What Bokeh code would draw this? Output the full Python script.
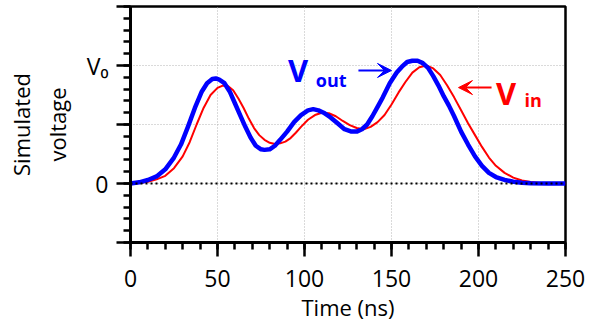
from bokeh.plotting import figure
from bokeh.models import Label, Arrow, VeeHead, SingleIntervalTicker, Range1d, Span
from bokeh.embed import file_html
from bokeh.resources import INLINE

# Data (voltage normalised to V0 = 1)
t_out = [0, 5, 10, 15, 20, 25, 29, 33, 37, 41, 44, 47, 49, 51, 54, 57, 60, 63, 66, 69,
         72, 75, 77, 80, 83, 86, 90, 94, 98, 102, 105, 108, 111, 115, 119, 123, 127,
         130, 133, 136, 139, 142, 145, 149, 153, 156, 159, 162, 165, 168, 171, 174,
         177, 180, 183, 186, 190, 194, 198, 202, 206, 210, 215, 220, 225, 230, 240, 250]
v_out = [0.0, 0.01, 0.03, 0.06, 0.12, 0.22, 0.33, 0.48, 0.64, 0.78, 0.85, 0.885, 0.89,
         0.88, 0.85, 0.78, 0.68, 0.58, 0.48, 0.39, 0.32, 0.29, 0.285, 0.29, 0.32, 0.37,
         0.44, 0.52, 0.58, 0.62, 0.63, 0.62, 0.60, 0.56, 0.51, 0.46, 0.44, 0.44, 0.46,
         0.50, 0.57, 0.65, 0.73, 0.85, 0.94, 0.99, 1.03, 1.04, 1.04, 1.02, 0.98, 0.91,
         0.83, 0.74, 0.66, 0.57, 0.44, 0.33, 0.23, 0.15, 0.09, 0.055, 0.03, 0.015,
         0.007, 0.003, 0.0, 0.0]

t_in = [0, 5, 10, 15, 20, 25, 30, 34, 38, 42, 46, 50, 53, 56, 59, 62, 65, 68, 71, 74,
        77, 80, 83, 86, 89, 92, 95, 98, 102, 106, 110, 114, 118, 122, 126, 130, 134,
        138, 142, 146, 150, 154, 158, 162, 166, 170, 174, 178, 182, 186, 190, 194, 198,
        202, 206, 210, 215, 220, 225, 230, 235, 240, 250]
v_in = [0.0, 0.005, 0.015, 0.035, 0.065, 0.13, 0.23, 0.35, 0.50, 0.64, 0.75, 0.81,
        0.83, 0.825, 0.79, 0.72, 0.64, 0.55, 0.47, 0.41, 0.37, 0.345, 0.335, 0.34,
        0.355, 0.385, 0.43, 0.48, 0.54, 0.58, 0.60, 0.595, 0.57, 0.53, 0.495, 0.47,
        0.46, 0.48, 0.52, 0.58, 0.67, 0.77, 0.86, 0.94, 0.985, 1.0, 0.975, 0.92, 0.83,
        0.73, 0.62, 0.51, 0.41, 0.31, 0.22, 0.15, 0.09, 0.05, 0.025, 0.012, 0.005,
        0.002, 0.0]

y_tick_labels = {-0.5: "", 0: "0", 0.5: "", 1: "V\u2080", 1.5: ""}
zero_level = 0

FONT = "Open Sans"

p = figure(width=606, height=327, output_backend="svg", toolbar_location=None,
           x_range=Range1d(0, 250), y_range=Range1d(-0.5, 1.5),
           min_border_left=130, min_border_right=41, min_border_top=6,
           min_border_bottom=85)
p.background_fill_color = "white"
p.border_fill_color = "white"
p.outline_line_color = "black"
p.outline_line_width = 2.5

xt = SingleIntervalTicker(interval=50, num_minor_ticks=5)
yt = SingleIntervalTicker(interval=0.5, num_minor_ticks=5)
p.xaxis.ticker = xt
p.yaxis.ticker = yt
p.xgrid.ticker = xt
p.ygrid.ticker = yt
for g in (p.xgrid, p.ygrid):
    g.grid_line_color = "#b5b5b5"
    g.grid_line_dash = "1 2"
    g.grid_line_width = 1

for ax in (p.xaxis, p.yaxis):
    ax.axis_line_width = 3
    ax.axis_line_color = "black"
    ax.major_tick_out = 14
    ax.major_tick_in = 0
    ax.minor_tick_out = 7
    ax.minor_tick_in = 0
    ax.major_tick_line_width = 2.5
    ax.minor_tick_line_width = 2.5
    ax.major_label_text_font = FONT
    ax.major_label_text_font_size = "23px"
    ax.major_label_text_color = "black"
    ax.axis_label_text_font = FONT
    ax.axis_label_text_font_size = "22px"
    ax.axis_label_text_font_style = "normal"
    ax.axis_label_text_color = "black"

p.xaxis.major_label_standoff = 13
p.yaxis.major_label_standoff = 8
p.yaxis.major_label_overrides = y_tick_labels
p.xaxis.axis_label = "Time (ns)"
p.xaxis.axis_label_standoff = 2
p.yaxis.axis_label = "Simulated\nvoltage"
p.yaxis.axis_label_standoff = 12

p.add_layout(Span(location=zero_level, dimension="width", line_color="black",
                  line_dash="2 3", line_width=2))

p.line(t_in, v_in, line_color="#ff0000", line_width=2, line_join="round")
p.line(t_out, v_out, line_color="#0000ff", line_width=4.5, line_join="round")

# Annotations
p.add_layout(Label(x=90.5, y=0.966, text="V", text_font=FONT, text_font_size="31px",
                   text_font_style="bold", text_color="#0000ff", text_align="left",
                   text_baseline="middle"))
p.add_layout(Label(x=106.5, y=0.873, text="out", text_font=FONT, text_font_size="18px",
                   text_font_style="bold", text_color="#0000ff", text_align="left",
                   text_baseline="middle"))
p.add_layout(Arrow(x_start=131, y_start=0.958, x_end=150, y_end=0.958,
                   line_color="#0000ff", line_width=2,
                   end=VeeHead(size=14, fill_color="#0000ff", line_color="#0000ff")))

p.add_layout(Label(x=210, y=0.771, text="V", text_font=FONT, text_font_size="31px",
                   text_font_style="bold", text_color="#ff0000", text_align="left",
                   text_baseline="middle"))
p.add_layout(Label(x=226.5, y=0.706, text="in", text_font=FONT, text_font_size="18px",
                   text_font_style="bold", text_color="#ff0000", text_align="left",
                   text_baseline="middle"))
p.add_layout(Arrow(x_start=207.5, y_start=0.813, x_end=188.5, y_end=0.813,
                   line_color="#ff0000", line_width=2,
                   end=VeeHead(size=14, fill_color="#ff0000", line_color="#ff0000")))

open("out.html", "w").write(file_html(p, INLINE))
